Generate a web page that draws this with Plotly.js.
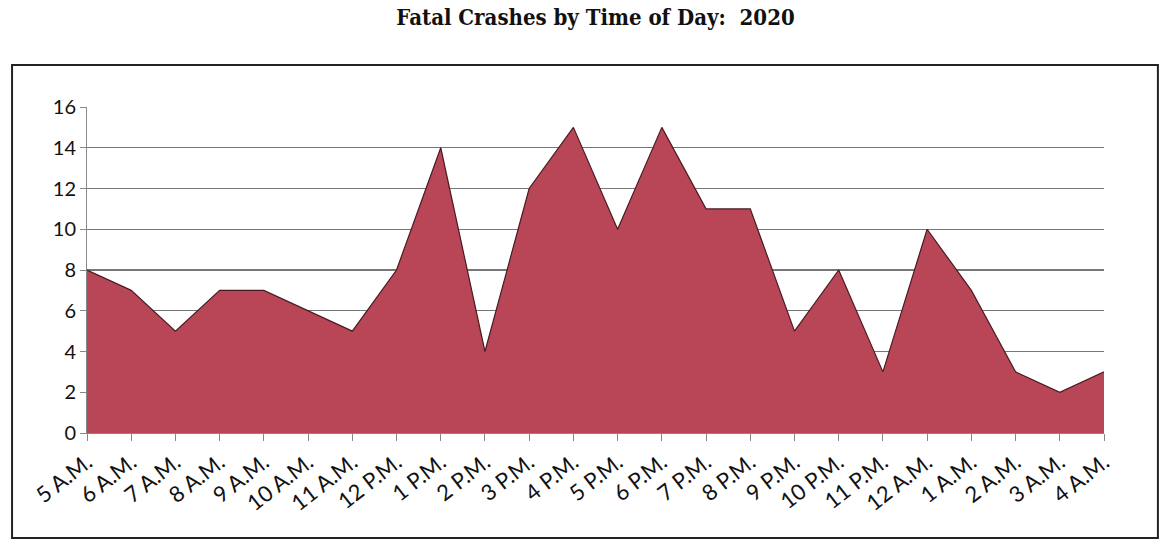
<!DOCTYPE html>
<html><head><meta charset="utf-8">
<script src="https://cdn.plot.ly/plotly-3.0.1.min.js"></script>
<style>html,body{margin:0;padding:0;background:#fff;}</style>
</head><body><div id="chart" style="width:1170px;height:549px;"></div>
<script>
const hours = ["5 A.M.","6 A.M.","7 A.M.","8 A.M.","9 A.M.","10 A.M.","11 A.M.","12 P.M.","1 P.M.","2 P.M.","3 P.M.","4 P.M.","5 P.M.","6 P.M.","7 P.M.","8 P.M.","9 P.M.","10 P.M.","11 P.M.","12 A.M.","1 A.M.","2 A.M.","3 A.M.","4 A.M."];
const crashes = [8,7,5,7,7,6,5,8,14,4,12,15,10,15,11,11,5,8,3,10,7,3,2,3];
const yTicks = [0,2,4,6,8,10,12,14,16];

const trace = {
  x: hours, y: crashes, type: 'scatter', mode: 'lines',
  fill: 'tozeroy', fillcolor: '#B84656',
  line: {color: '#4a1a22', width: 1.2},
  hoverinfo: 'x+y'
};
const layout = {
  width: 1170, height: 549,
  margin: {l: 87, r: 66, t: 107, b: 116},
  paper_bgcolor: '#fff', plot_bgcolor: '#fff',
  showlegend: false,
  font: {family: 'Lato, Open Sans, sans-serif', size: 20, color: '#111'},
  title: {text: '<b>Fatal Crashes by Time of Day:  2020</b>', x: 0.5, xref: 'paper', y: 0.968, yanchor: 'middle',
          font: {family: 'DejaVu Serif Condensed, Liberation Serif, serif', size: 22, color: '#111'}},
  xaxis: {
    type: 'category', range: [0, hours.length - 1],
    tickangle: -38, ticks: 'outside', ticklen: 7, tickcolor: '#888',
    showline: true, linecolor: '#888', linewidth: 1,
    showgrid: false, zeroline: false,
    tickfont: {family: 'Lato, sans-serif', size: 22, color: '#111'}
  },
  yaxis: {
    range: [0, 16], tickvals: yTicks, ticktext: yTicks.map(String),
    ticks: 'outside', ticklen: 6, tickcolor: '#888',
    showline: true, linecolor: '#888', linewidth: 1,
    showgrid: true, gridcolor: '#777', gridwidth: 1.2, zeroline: false,
    tickfont: {family: 'Lato, sans-serif', size: 20, color: '#111'}
  },
  shapes: [{
    type: 'rect', xref: 'paper', yref: 'paper',
    x0: -0.0737, x1: 1.053, y0: -0.322, y1: 1.129,
    line: {color: '#222', width: 2}, fillcolor: 'rgba(0,0,0,0)', layer: 'below'
  }]
};
Plotly.newPlot('chart', [trace], layout, {displayModeBar: false, staticPlot: true});
</script></body></html>
